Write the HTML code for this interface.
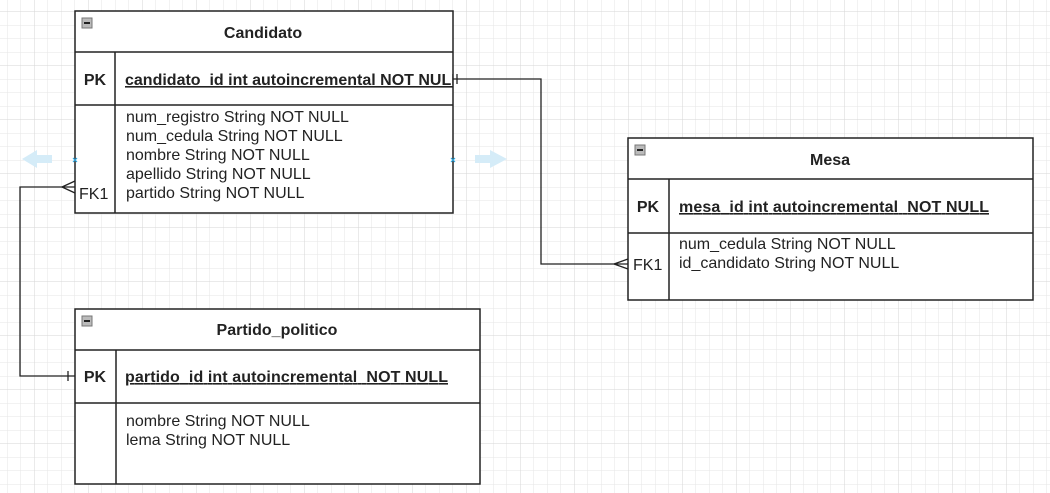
<!DOCTYPE html>
<html><head><meta charset="utf-8"><style>
html,body{margin:0;padding:0;background:#fff}
svg{display:block}
text{font-family:"Liberation Sans",Arial,sans-serif;fill:#222}
</style></head><body>
<svg width="1050" height="493" viewBox="0 0 1050 493" xmlns="http://www.w3.org/2000/svg">
<defs>
<pattern id="g" x="7" y="11.5" width="13.5" height="13.5" patternUnits="userSpaceOnUse">
<path d="M0 0H13.5M0 0V13.5" stroke="#e6e6e6" stroke-width="1" fill="none"/>
</pattern>
<pattern id="G" x="34" y="11.5" width="54" height="54" patternUnits="userSpaceOnUse">
<path d="M0 0H54M0 0V54" stroke="#d6d6d6" stroke-width="1" fill="none"/>
</pattern>
<clipPath id="c1"><rect x="116" y="53" width="337" height="50"/></clipPath>
</defs>
<rect width="1050" height="493" fill="url(#g)"/>
<rect width="1050" height="493" fill="url(#G)"/>

<g stroke="#222" stroke-width="1.3" fill="none">
<path d="M453 79H541V264H628"/>
<path d="M457 74V84"/>
<path d="M614 264L628 259M614 264L628 269"/>
<path d="M75 187H20V376H75"/>
<path d="M62 187L75 181M62 187L75 193"/>
<path d="M68 371V381"/>
</g>

<g stroke="#222" stroke-width="1.5" fill="#fff">
<rect x="75" y="11" width="378" height="202"/>
<path d="M75 52H453M75 105H453M115 52V213" fill="none"/>
<rect x="628" y="138" width="405" height="162"/>
<path d="M628 179H1033M628 233H1033M669 179V300" fill="none"/>
<rect x="75" y="309" width="405" height="175"/>
<path d="M75 350H480M75 403H480M116 350V484" fill="none"/>
</g>
<g>
<rect x="82" y="18" width="10" height="10" fill="#bbb" stroke="#777" stroke-width="1"/><rect x="84" y="22" width="6" height="2" fill="#222"/>
<rect x="635" y="145" width="10" height="10" fill="#bbb" stroke="#777" stroke-width="1"/><rect x="637" y="149" width="6" height="2" fill="#222"/>
<rect x="82" y="316" width="10" height="10" fill="#bbb" stroke="#777" stroke-width="1"/><rect x="84" y="320" width="6" height="2" fill="#222"/>
</g>

<g font-size="16" font-weight="bold">
<text x="263" y="38" text-anchor="middle">Candidato</text>
<text x="95" y="85" text-anchor="middle">PK</text>
<text x="125" y="85" text-decoration="underline" clip-path="url(#c1)">candidato_id int autoincremental NOT NULL</text>
<text x="830" y="165" text-anchor="middle">Mesa</text>
<text x="648" y="212" text-anchor="middle">PK</text>
<text x="679" y="212" text-decoration="underline" textLength="310" lengthAdjust="spacing">mesa_id int autoincremental&#160; NOT NULL</text>
<text x="277" y="335" text-anchor="middle">Partido_politico</text>
<text x="95" y="382" text-anchor="middle">PK</text>
<text x="125" y="382" text-decoration="underline" textLength="323" lengthAdjust="spacing">partido_id int autoincremental&#160; NOT NULL</text>
</g>
<g font-size="16">
<text x="126" y="122">num_registro String NOT NULL</text>
<text x="126" y="141">num_cedula String NOT NULL</text>
<text x="126" y="160">nombre String NOT NULL</text>
<text x="126" y="179">apellido String NOT NULL</text>
<text x="126" y="198">partido String NOT NULL</text>
<text x="79" y="199">FK1</text>
<text x="679" y="249">num_cedula String NOT NULL</text>
<text x="679" y="268">id_candidato String NOT NULL</text>
<text x="633" y="270">FK1</text>
<text x="126" y="426">nombre String NOT NULL</text>
<text x="126" y="445">lema String NOT NULL</text>
</g>

<g fill="#d5ecf8">
<path d="M52 155H37V150L22 159L37 168V163H52Z"/>
<path d="M475 155H490V150L507 159L490 168V163H475Z"/>
</g>
<g stroke="#2aa6e0" stroke-width="1.2">
<path d="M73 158L77 162M77 158L73 162"/>
<path d="M451 158L455 162M455 158L451 162"/>
</g>
</svg>
</body></html>
